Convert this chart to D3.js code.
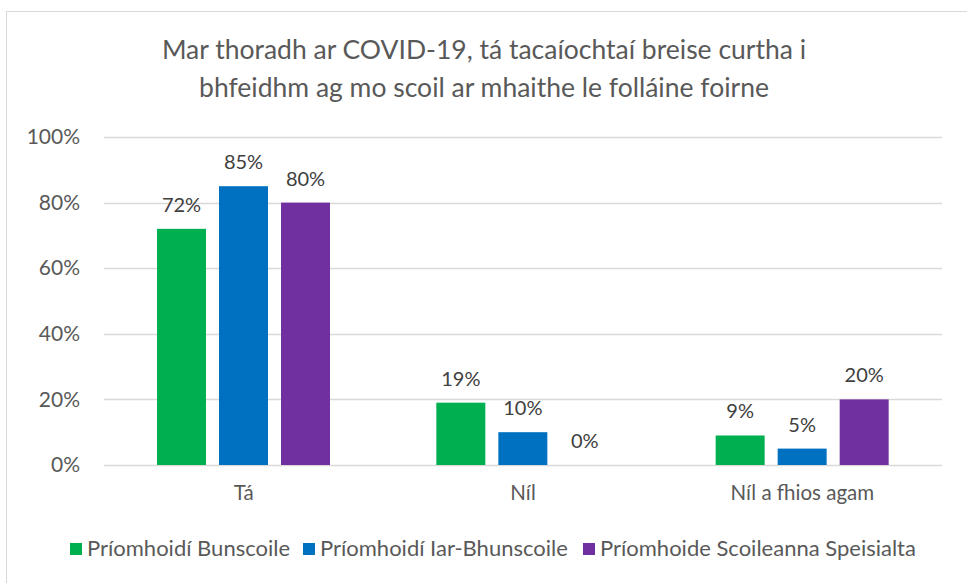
<!DOCTYPE html>
<html>
<head>
<meta charset="utf-8">
<title>Tacaíochtaí breise</title>
<style>
body { margin: 0; background: #fff; }
svg text { font-family: Lato, "Open Sans", sans-serif; fill: #595959; }
</style>
</head>
<body>
<script src="https://cdnjs.cloudflare.com/ajax/libs/d3/7.8.5/d3.min.js"></script>
<script>
// dáta
var catNames = ["Tá", "Níl", "Níl a fhios agam"];
var seriesNames = ["Príomhoidí Bunscoile", "Príomhoidí Iar-Bhunscoile", "Príomhoide Scoileanna Speisialta"];
var bunscoil = [0.72, 0.19, 0.09];
var iarBhunscoil = [0.85, 0.10, 0.05];
var speisialta = [0.80, 0.00, 0.20];
var yTicks = [0, 0.2, 0.4, 0.6, 0.8, 1.0];
var titleLines = ["Mar thoradh ar COVID-19, tá tacaíochtaí breise curtha i",
                  "bhfeidhm ag mo scoil ar mhaithe le folláine foirne"];
var colors = ["#00b050", "#0070c0", "#7030a0"];

var width = 967, height = 583;
var allSeries = [bunscoil, iarBhunscoil, speisialta];

var svg = d3.select('body').append('svg')
  .attr('width', width)
  .attr('height', height);

// fráma
svg.append('rect')
  .attr('x', 6.5).attr('y', 11.5)
  .attr('width', 980).attr('height', 600)
  .attr('fill', '#fff')
  .attr('stroke', '#d9d9d9');

var x0 = d3.scaleBand().domain(catNames).range([104, 942]);
var x1 = d3.scaleBand().domain(seriesNames).range([53, 226]).paddingInner(0.21);
var y = d3.scaleLinear().domain([0, 1]).range([465, 137]);

// teideal
svg.selectAll('.title')
  .data(titleLines)
  .enter()
  .append('text')
  .attr('class', 'title')
  .attr('x', 484)
  .attr('y', function(d, i) { return 59 + i * 38; })
  .attr('text-anchor', 'middle')
  .style('font-size', '26.5px')
  .text(function(d) { return d; });

// greille
svg.selectAll('.grid')
  .data(yTicks)
  .enter()
  .append('line')
  .attr('x1', 104).attr('x2', 942)
  .attr('y1', function(d) { return Math.round(y(d)) + 0.5; })
  .attr('y2', function(d) { return Math.round(y(d)) + 0.5; })
  .attr('stroke', '#d9d9d9')
  .attr('stroke-width', 1.3);

// ais y
var yAxis = svg.append('g')
  .attr('transform', 'translate(104,0)')
  .call(d3.axisLeft(y).tickValues(yTicks).tickFormat(d3.format('.0%')).tickSize(0).tickPadding(24));
yAxis.select('.domain').remove();
yAxis.selectAll('text').style('font-size', '21px').attr('fill', '#595959');

// ais x
var xAxis = svg.append('g')
  .attr('transform', 'translate(0,465)')
  .call(d3.axisBottom(x0).tickSize(0).tickPadding(20));
xAxis.select('.domain').remove();
xAxis.selectAll('text').style('font-size', '20.5px').attr('fill', '#595959');

// barraí
var rows = catNames.map(function(c, i) {
  return seriesNames.map(function(s, j) { return {cat: c, series: s, value: allSeries[j][i], idx: j}; });
});

var groups = svg.selectAll('.grp')
  .data(rows)
  .enter()
  .append('g')
  .attr('class', 'grp')
  .attr('transform', function(d, i) { return 'translate(' + x0(catNames[i]) + ',0)'; });

groups.selectAll('rect')
  .data(function(d) { return d; })
  .enter()
  .append('rect')
  .attr('x', function(d) { return x1(d.series); })
  .attr('width', x1.bandwidth())
  .attr('y', function(d) { return y(d.value); })
  .attr('height', function(d) { return y(0) - y(d.value); })
  .attr('fill', function(d) { return colors[d.idx]; });

groups.selectAll('.lbl')
  .data(function(d) { return d; })
  .enter()
  .append('text')
  .attr('class', 'lbl')
  .attr('x', function(d) { return x1(d.series) + x1.bandwidth() / 2; })
  .attr('y', function(d) { return y(d.value) - 17; })
  .attr('text-anchor', 'middle')
  .style('font-size', '20px')
  .style('fill', '#404040')
  .text(function(d) { return d3.format('.0%')(d.value); });

// eochair
var legX = [70, 303, 583];
var leg = svg.selectAll('.leg')
  .data(seriesNames)
  .enter()
  .append('g')
  .attr('class', 'leg')
  .attr('transform', function(d, i) { return 'translate(' + legX[i] + ',549)'; });
leg.append('rect')
  .attr('x', 0).attr('y', -6)
  .attr('width', 12).attr('height', 12)
  .attr('fill', function(d, i) { return colors[i]; });
leg.append('text')
  .attr('x', 17).attr('y', 7)
  .style('font-size', '22px')
  .text(function(d) { return d; });
</script>
</body>
</html>
